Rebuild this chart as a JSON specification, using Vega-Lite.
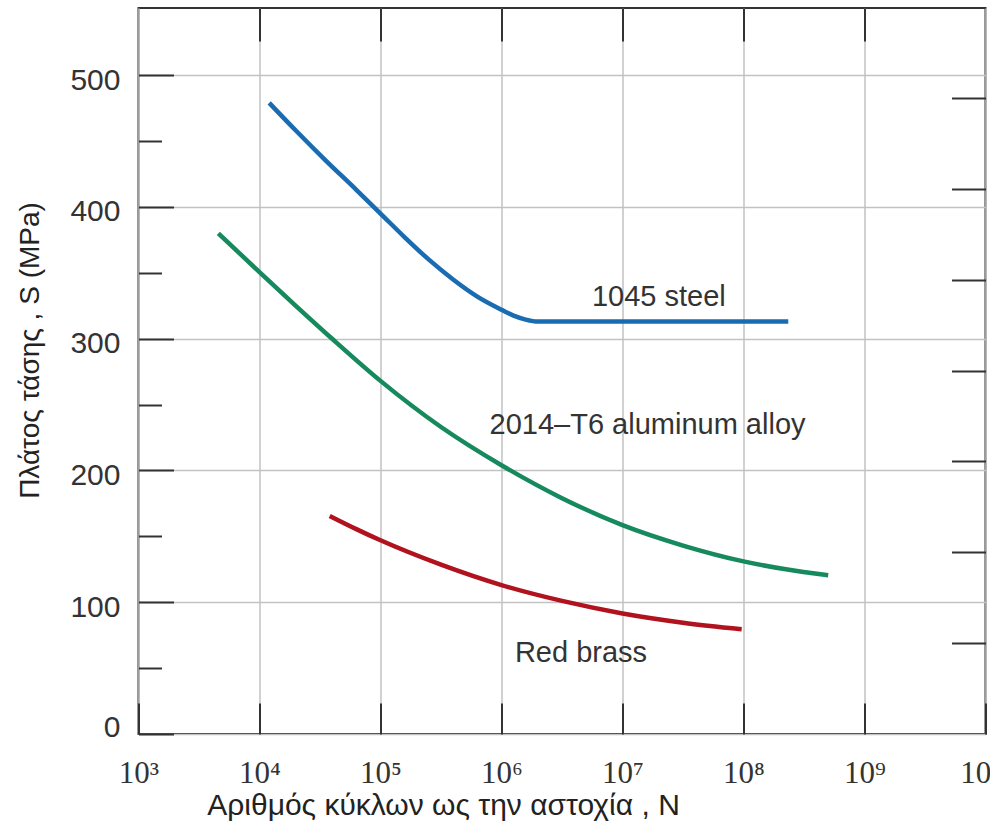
{
  "$schema": "https://vega.github.io/schema/vega-lite/v6.json",
  "width": 847,
  "height": 726,
  "autosize": {"type": "none"},
  "padding": {"left": 138.5, "top": 8, "right": 4.5, "bottom": 103},
  "background": "white",
  "config": {"view": {"stroke": "#333333", "strokeWidth": 2}, "font": "Liberation Sans"},
  "datasets": {
    "curves": [
      {"material": "1045 steel", "N": 12023, "S": 479},
      {"material": "1045 steel", "N": 19953, "S": 458},
      {"material": "1045 steel", "N": 35481, "S": 435},
      {"material": "1045 steel", "N": 63096, "S": 413},
      {"material": "1045 steel", "N": 100000, "S": 395},
      {"material": "1045 steel", "N": 158489, "S": 377},
      {"material": "1045 steel", "N": 251189, "S": 360},
      {"material": "1045 steel", "N": 398107, "S": 345},
      {"material": "1045 steel", "N": 630957, "S": 332},
      {"material": "1045 steel", "N": 1000000, "S": 322},
      {"material": "1045 steel", "N": 1258925, "S": 317.5},
      {"material": "1045 steel", "N": 1584893, "S": 314.5},
      {"material": "1045 steel", "N": 1995262, "S": 313},
      {"material": "1045 steel", "N": 234422882, "S": 313},
      {"material": "2014-T6 aluminum alloy", "N": 4571, "S": 380},
      {"material": "2014-T6 aluminum alloy", "N": 10000, "S": 350.5},
      {"material": "2014-T6 aluminum alloy", "N": 19953, "S": 325},
      {"material": "2014-T6 aluminum alloy", "N": 39811, "S": 300},
      {"material": "2014-T6 aluminum alloy", "N": 100000, "S": 268},
      {"material": "2014-T6 aluminum alloy", "N": 316228, "S": 233},
      {"material": "2014-T6 aluminum alloy", "N": 1000000, "S": 204},
      {"material": "2014-T6 aluminum alloy", "N": 3162278, "S": 179},
      {"material": "2014-T6 aluminum alloy", "N": 10000000, "S": 158.5},
      {"material": "2014-T6 aluminum alloy", "N": 31622777, "S": 143},
      {"material": "2014-T6 aluminum alloy", "N": 100000000, "S": 131},
      {"material": "2014-T6 aluminum alloy", "N": 223872114, "S": 125},
      {"material": "2014-T6 aluminum alloy", "N": 501187234, "S": 120.5},
      {"material": "Red brass", "N": 38019, "S": 165.5},
      {"material": "Red brass", "N": 63096, "S": 155.5},
      {"material": "Red brass", "N": 100000, "S": 147},
      {"material": "Red brass", "N": 316228, "S": 128.5},
      {"material": "Red brass", "N": 1000000, "S": 113},
      {"material": "Red brass", "N": 3162278, "S": 101},
      {"material": "Red brass", "N": 10000000, "S": 91.5},
      {"material": "Red brass", "N": 31622777, "S": 84.5},
      {"material": "Red brass", "N": 96605088, "S": 79.5}
    ],
    "labels": [
      {"label": "1045 steel", "N": 19952623, "S": 332},
      {"label": "2014–T6 aluminum alloy", "N": 16106127, "S": 234.6},
      {"label": "Red brass", "N": 4539416, "S": 61.5}
    ]
  },
  "layer": [
    {
      "data": {"name": "curves"},
      "mark": {"type": "line", "strokeWidth": 4.5, "interpolate": "monotone", "strokeCap": "butt"},
      "encoding": {
        "x": {
          "field": "N", "type": "quantitative",
          "scale": {"type": "log", "domain": [1000, 10000000000]},
          "axis": {
            "orient": "bottom",
            "values": [1000, 10000, 100000, 1000000, 10000000, 100000000, 1000000000, 10000000000],
            "labelExpr": "'10' + ['³','⁴','⁵','⁶','⁷','⁸','⁹','¹⁰'][round(log(datum.value)/LN10) - 3]",
            "labelFont": "Liberation Serif", "labelFontSize": 31, "labelColor": "#333333",
            "labelPadding": 55, "labelFlush": false, "labelOverlap": false,
            "tickSize": -31, "tickColor": "#333333", "tickWidth": 2,
            "domain": false,
            "grid": true, "gridColor": "#c2c2c2", "gridWidth": 1.5,
            "title": "Αριθμός κύκλων ως την αστοχία , N",
            "titleFont": "Liberation Sans", "titleFontSize": 30, "titleFontWeight": "normal", "titleColor": "#222222",
            "titleX": 304.5, "titleY": 80, "titleAlign": "center", "titleBaseline": "alphabetic"
          }
        },
        "y": {
          "field": "S", "type": "quantitative",
          "scale": {"domain": [0, 551]},
          "axis": {
            "orient": "left",
            "values": [0, 50, 100, 150, 200, 250, 300, 350, 400, 450, 500],
            "labelExpr": "datum.value % 100 === 0 ? datum.label : ''",
            "labelFont": "Liberation Sans", "labelFontSize": 30, "labelColor": "#333333",
            "labelPadding": 53.5, "labelFlush": false, "labelOverlap": false,
            "labelOffset": {"condition": {"test": "datum.value === 0", "value": -7}, "value": 5},
            "tickSize": {"condition": {"test": "datum.value % 100 === 0", "value": -35}, "value": -23},
            "tickColor": "#333333", "tickWidth": 2,
            "domain": false,
            "grid": true, "gridColor": "#c2c2c2", "gridWidth": 1.5,
            "gridOpacity": {"condition": {"test": "datum.value % 100 !== 0", "value": 0}, "value": 1},
            "title": "Πλάτος τάσης , S (MPa)",
            "titleFont": "Liberation Sans", "titleFontSize": 28, "titleFontWeight": "normal", "titleColor": "#222222",
            "titleAngle": -90, "titleX": -108.5, "titleY": 342, "titleAlign": "center", "titleBaseline": "middle"
          }
        },
        "color": {
          "field": "material", "type": "nominal",
          "scale": {"domain": ["1045 steel", "2014-T6 aluminum alloy", "Red brass"], "range": ["#1a6cb2", "#16895d", "#b0121e"]},
          "legend": null
        }
      }
    },
    {
      "data": {"name": "labels"},
      "mark": {"type": "text", "font": "Liberation Sans", "fontSize": 29, "color": "#333333", "align": "center", "baseline": "middle"},
      "encoding": {
        "x": {
          "field": "N", "type": "quantitative",
          "scale": {"type": "log", "domain": [1000, 10000000000]},
          "axis": {
            "orient": "top",
            "values": [10000, 100000, 1000000, 10000000, 100000000, 1000000000],
            "labels": false, "tickSize": -33, "tickColor": "#333333", "tickWidth": 2,
            "domain": false, "grid": false, "title": null
          }
        },
        "y": {
          "field": "S", "type": "quantitative",
          "scale": {"domain": [0, 551]},
          "axis": {
            "orient": "right",
            "values": [68.95, 137.9, 206.85, 275.8, 344.75, 413.7, 482.65],
            "labels": false, "tickSize": -34, "tickColor": "#333333", "tickWidth": 2,
            "domain": false, "grid": false, "title": null
          }
        },
        "text": {"field": "label", "type": "nominal"}
      }
    }
  ],
  "resolve": {"axis": {"x": "independent", "y": "independent"}}
}
